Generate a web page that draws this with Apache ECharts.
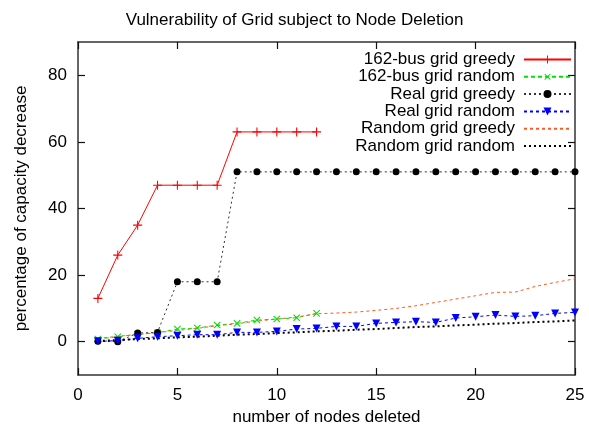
<!DOCTYPE html>
<html>
<head>
<meta charset="utf-8">
<script src="https://cdn.jsdelivr.net/npm/echarts@6/dist/echarts.min.js"></script>
<style>
  html, body { margin: 0; padding: 0; background: #fff; }
  #main { width: 589px; height: 433px; }
</style>
</head>
<body>
<div id="main"></div>
<script>
// x values (number of nodes deleted)
var nodesShort = [1, 2, 3, 4, 5, 6, 7, 8, 9, 10, 11, 12]
var nodesLong = [1, 2, 3, 4, 5, 6, 7, 8, 9, 10, 11, 12, 13, 14, 15, 16, 17, 18, 19, 20, 21, 22, 23, 24, 25]

// percentage of capacity decrease
var busGreedy = [13, 26, 35, 47, 47, 47, 47, 63, 63, 63, 63, 63]
var busRandom = [0.8, 1.5, 2.2, 2.7, 3.8, 4.1, 5.0, 5.5, 6.5, 6.8, 7.2, 8.5]
var realGreedy = [0.1, 0, 2.6, 2.8, 18, 18, 18, 51, 51, 51, 51, 51, 51, 51, 51, 51, 51, 51, 51, 51, 51, 51, 51, 51, 51]
var realRandom = [0.1, 0.3, 1.0, 1.5, 1.8, 2.1, 2.1, 2.8, 2.8, 3.1, 3.8, 4.0, 4.6, 4.6, 5.5, 5.8, 6.0, 5.8, 7.1, 7.5, 8.0, 7.6, 7.8, 8.5, 8.8]
var randGreedy = [1.0, 1.6, 2.2, 2.7, 3.4, 4.0, 4.8, 5.4, 6.2, 6.8, 7.4, 8.4, 8.6, 8.9, 9.4, 10.0, 10.8, 11.8, 12.8, 13.8, 14.8, 14.9, 16.6, 17.8, 18.9]
var randRandom = [0.2, 0.5, 0.8, 1.0, 1.3, 1.5, 1.8, 2.1, 2.3, 2.6, 2.8, 3.1, 3.3, 3.6, 3.8, 4.1, 4.4, 4.6, 4.9, 5.1, 5.4, 5.6, 5.9, 6.1, 6.4]

var seriesNames = ['162-bus grid greedy', '162-bus grid random', 'Real grid greedy', 'Real grid random', 'Random grid greedy', 'Random grid random']
var xTicks = [0, 5, 10, 15, 20, 25]
var yTicks = [0, 20, 40, 60, 80]

function pairs(xs, ys) {
  return ys.map(function (y, i) { return [xs[i], y] })
}

var FONT = 'Liberation Sans, Arial, sans-serif'
var plus = 'path://M0,4.4H10V5.6H0ZM4.4,0H5.6V10H4.4Z'
var frameLine = { show: true, onZero: false, lineStyle: { color: '#333', width: 1.5 } }
var tickStyle = { color: '#111', width: 1.2 }

var chart = echarts.init(document.getElementById('main'))

// one legend per row so the entries right-align like gnuplot's key
var legends = seriesNames.map(function (name, i) {
  var lg = {
    data: [name],
    right: 17,
    top: 51 + i * 17.3,
    padding: 0,
    align: 'right',
    itemWidth: 47,
    itemHeight: 10,
    selectedMode: false,
    textStyle: { fontFamily: FONT, fontSize: 17, color: '#000', padding: [0, 4, 0, 0] }
  }
  if (i >= 4) lg.itemStyle = { opacity: 0 } // no point markers on these two
  return lg
})

chart.setOption({
  animation: false,
  title: {
    text: 'Vulnerability of Grid subject to Node Deletion',
    left: 'center',
    top: 7,
    textStyle: { fontFamily: FONT, fontSize: 17, fontWeight: 'normal', color: '#000' }
  },
  legend: legends,
  grid: { left: 78, right: 14, top: 42, bottom: 58 },
  xAxis: [{
    type: 'value', min: 0, max: 25, interval: 5,
    name: 'number of nodes deleted', nameLocation: 'middle', nameGap: 31,
    nameTextStyle: { fontFamily: FONT, fontSize: 17, color: '#000' },
    axisLine: frameLine,
    axisTick: { show: true, inside: true, length: 7, customValues: xTicks, lineStyle: tickStyle },
    axisLabel: { fontFamily: FONT, fontSize: 17, color: '#000', margin: 12 },
    splitLine: { show: false }
  }, {
    type: 'value', min: 0, max: 25, interval: 5, position: 'top',
    axisLine: frameLine,
    axisTick: { show: true, inside: true, length: 7, customValues: xTicks, lineStyle: tickStyle },
    axisLabel: { show: false },
    splitLine: { show: false }
  }],
  yAxis: [{
    type: 'value', min: -10, max: 90, interval: 10,
    name: 'percentage of capacity decrease', nameLocation: 'middle', nameGap: 48,
    nameTextStyle: { fontFamily: FONT, fontSize: 17, color: '#000' },
    axisLine: frameLine,
    axisTick: { show: true, inside: true, length: 7, customValues: yTicks, lineStyle: tickStyle },
    axisLabel: { fontFamily: FONT, fontSize: 17, color: '#000', margin: 11, customValues: yTicks },
    splitLine: { show: false }
  }, {
    type: 'value', min: -10, max: 90, interval: 10, position: 'right',
    axisLine: frameLine,
    axisTick: { show: true, inside: true, length: 7, customValues: yTicks, lineStyle: tickStyle },
    axisLabel: { show: false },
    splitLine: { show: false }
  }],
  series: [
    {
      name: seriesNames[0], type: 'line', data: pairs(nodesShort, busGreedy),
      symbol: plus, symbolSize: 9,
      lineStyle: { color: '#ff0000', width: 1 },
      itemStyle: { color: '#ff0000' }
    },
    {
      name: seriesNames[1], type: 'line', data: pairs(nodesShort, busRandom),
      symbol: plus, symbolSize: 9, symbolRotate: 45,
      lineStyle: { color: '#00e000', width: 1, type: [4, 3] },
      itemStyle: { color: '#00e000' }
    },
    {
      name: seriesNames[2], type: 'line', data: pairs(nodesLong, realGreedy),
      symbol: 'circle', symbolSize: 7,
      lineStyle: { color: '#333', width: 1, type: [2, 3] },
      itemStyle: { color: '#000' }
    },
    {
      name: seriesNames[3], type: 'line', data: pairs(nodesLong, realRandom),
      symbol: 'triangle', symbolSize: 8, symbolRotate: 180,
      lineStyle: { color: '#0000ff', width: 1, type: [3, 3] },
      itemStyle: { color: '#0000ff' }
    },
    {
      name: seriesNames[4], type: 'line', data: pairs(nodesLong, randGreedy),
      symbol: 'none',
      lineStyle: { color: '#ff5a1e', width: 1, type: [3, 3] },
      itemStyle: { color: '#ff5a1e' }
    },
    {
      name: seriesNames[5], type: 'line', data: pairs(nodesLong, randRandom),
      symbol: 'none',
      lineStyle: { color: '#000', width: 2, type: [2, 3] },
      itemStyle: { color: '#000' }
    }
  ]
})
</script>
</body>
</html>
